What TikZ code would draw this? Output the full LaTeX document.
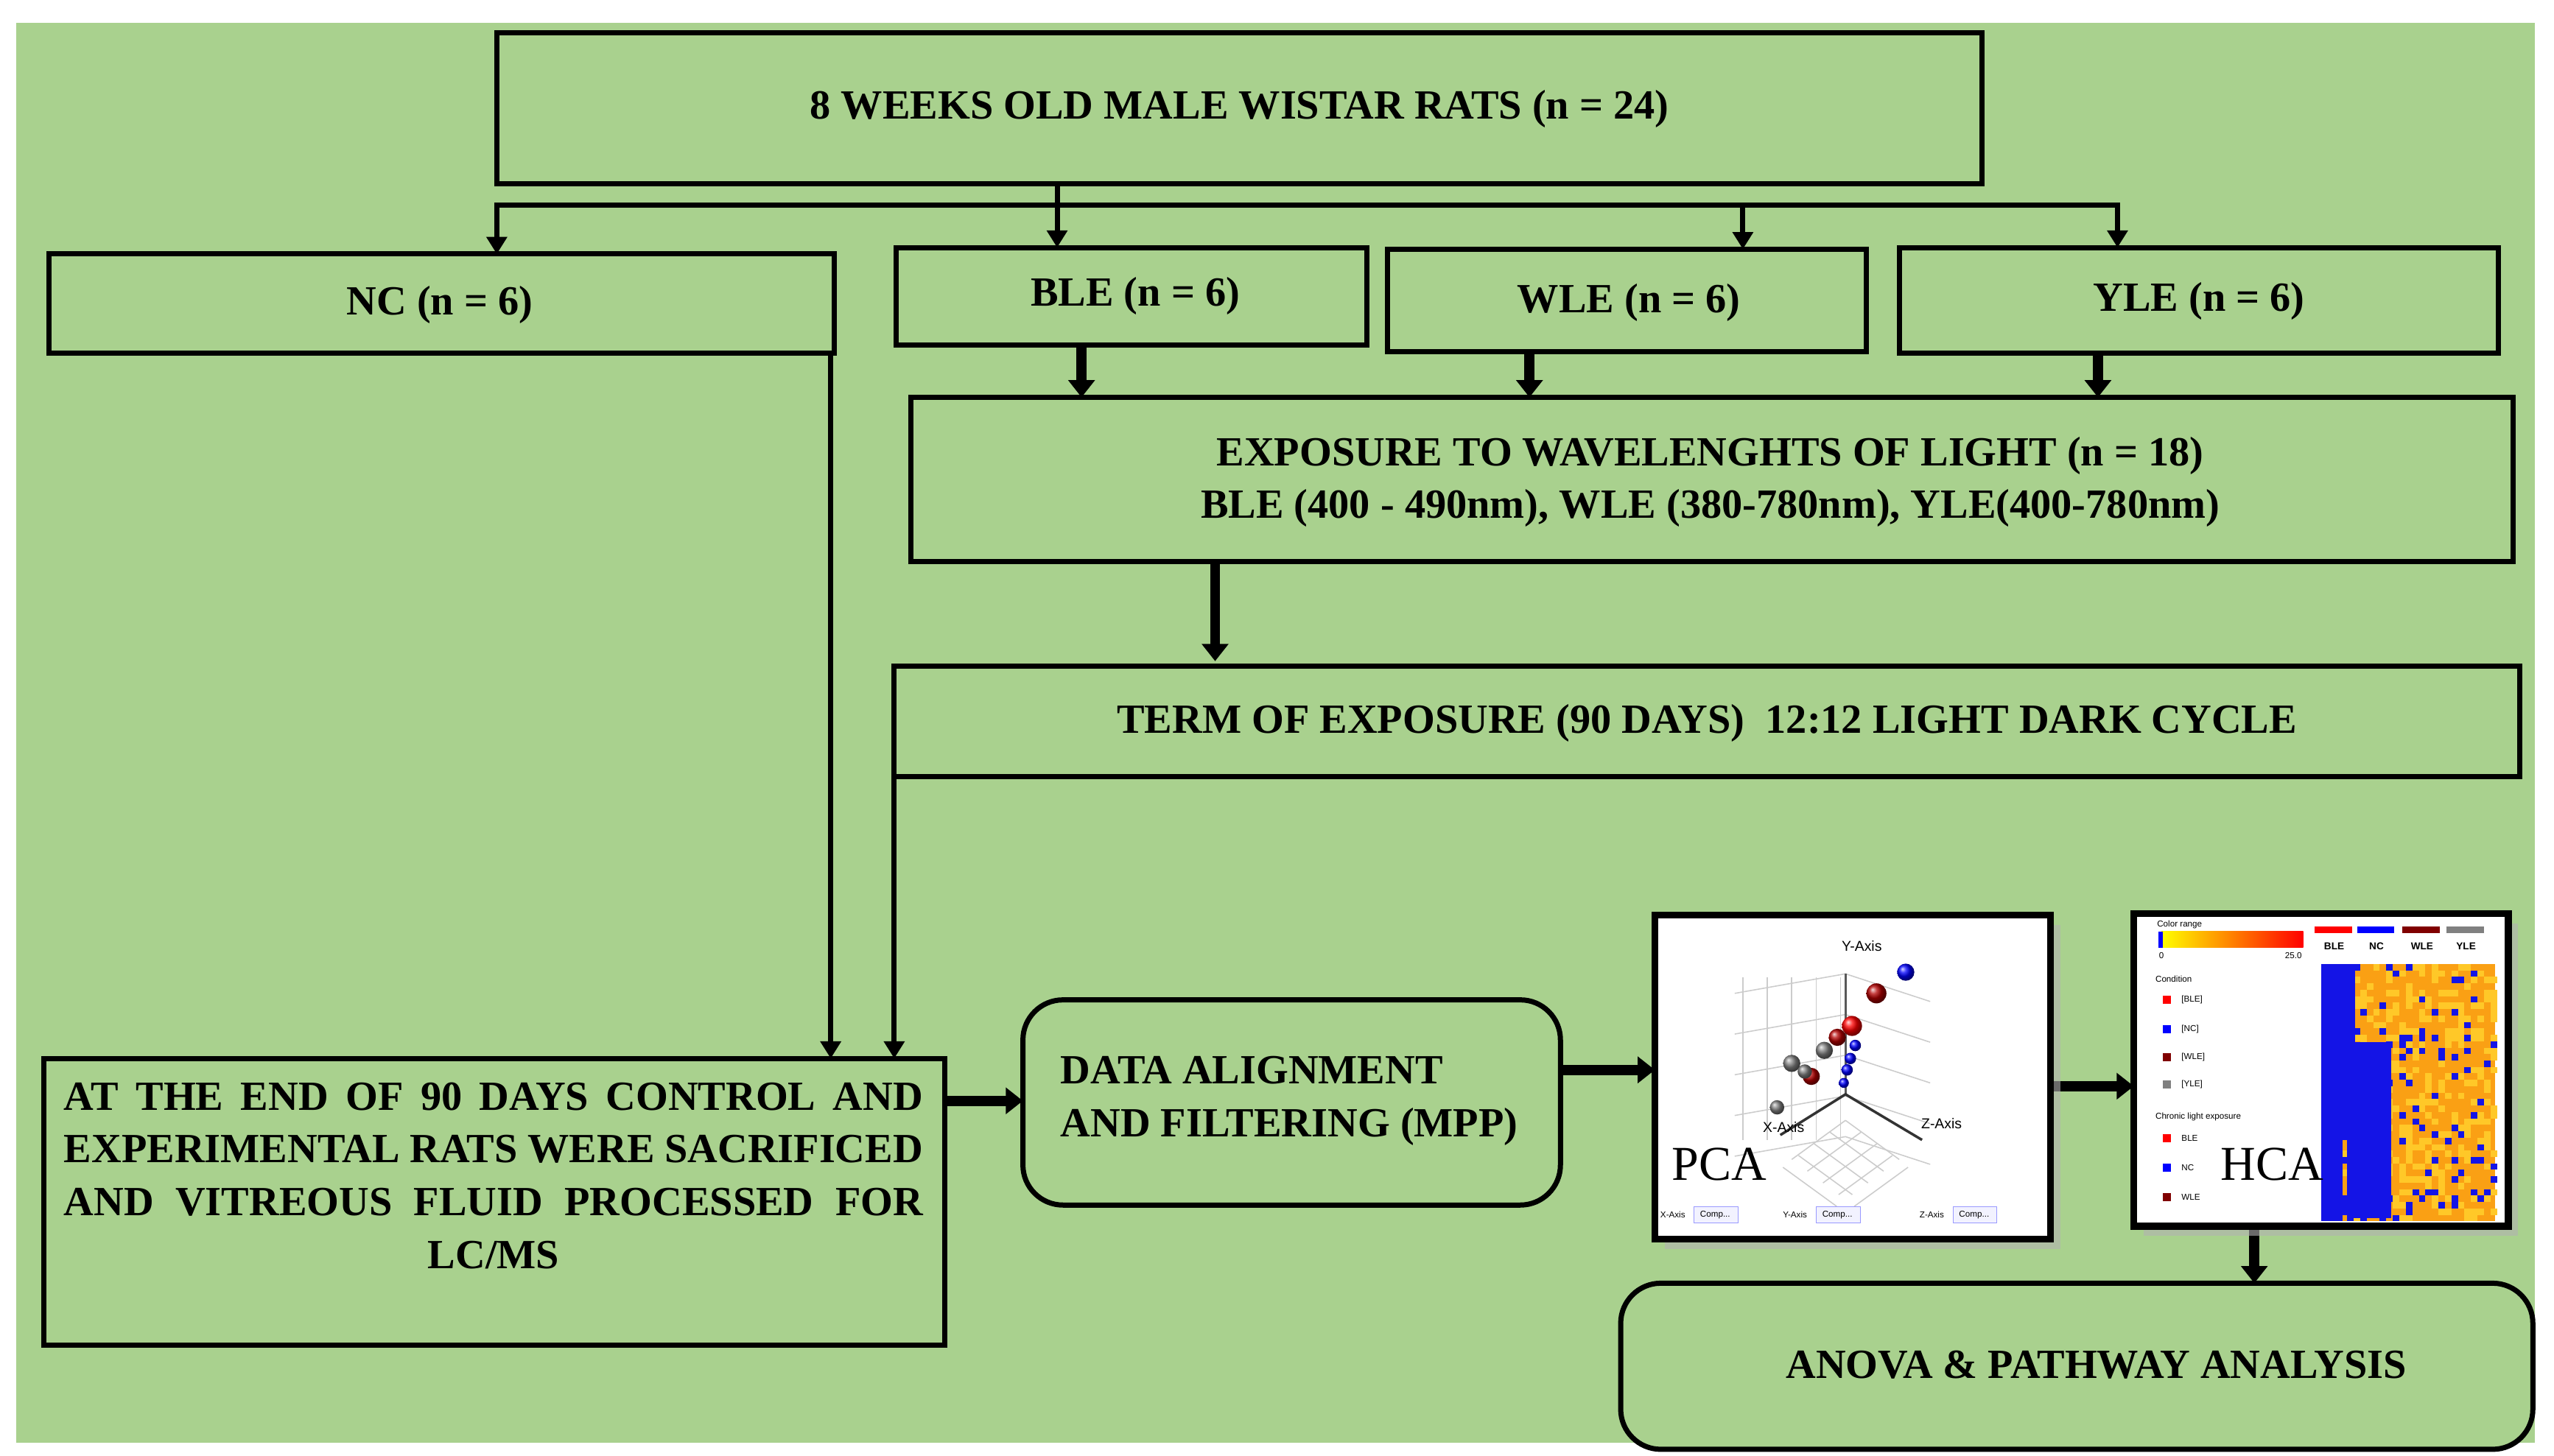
\documentclass[tikz,border=0pt]{standalone}
\usepackage{fontspec}
\setmainfont{Liberation Serif}
\newfontfamily\smallsans{Liberation Sans}
\usetikzlibrary{arrows.meta,shadows}
\definecolor{bg}{RGB}{169,209,142}
\definecolor{heatO}{RGB}{250,160,20}
\definecolor{heatY}{RGB}{255,200,40}
\definecolor{heatB}{RGB}{20,20,230}
\begin{document}
\begin{tikzpicture}[x=0.02cm,y=-0.02cm,
  box/.style={draw=black,line width=1.8pt,fill=bg},
  rbox/.style={draw=black,line width=1.8pt,fill=bg,rounded corners=14pt},
  txt/.style={font=\bfseries\fontsize{14.5}{18.5}\selectfont,align=center},
  arr/.style={line width=1.8pt,-{Triangle[length=6pt,width=7pt]}},
  tarr/.style={line width=3.5pt,-{Triangle[length=6pt,width=9pt]}},
  big/.style={font=\fontsize{17}{18}\selectfont,inner sep=0pt,anchor=west},
  lbl/.style={font=\smallsans\fontsize{3}{3.5}\selectfont,inner sep=0pt}]
\useasboundingbox (0,0) rectangle (1568,894);
\fill[white] (0,0) rectangle (1568,894);
\fill[bg] (10,14) rectangle (1556,886);

% boxes
\draw[box] (305,20) rectangle (1217,113);
\node[txt] (top) at (761,67) {8 WEEKS OLD MALE WISTAR RATS (n = 24)};
\coordinate (topb) at (649,113);
\draw[box] (30,156) rectangle (512,217);
\node[txt] (nc) at (270,187) {NC (n = 6)};
\draw[box] (550,152) rectangle (839,212);
\node[txt] (ble) at (697,182) {BLE (n = 6)};
\draw[box] (852,153) rectangle (1146,216);
\node[txt] (wle) at (1000,186) {WLE (n = 6)};
\draw[box] (1166,152) rectangle (1534,217);
\node[txt] (yle) at (1350,185) {YLE (n = 6)};
\draw[box] (559,244) rectangle (1543,345);
\node[txt] (exp) at (1050,296) {EXPOSURE TO WAVELENGHTS OF LIGHT (n = 18)\\BLE (400 - 490nm), WLE (380-780nm), YLE(400-780nm)};
\draw[box] (549,409) rectangle (1547,477);
\node[txt] (term) at (1048,444) {TERM OF EXPOSURE (90 DAYS)\ \ 12:12 LIGHT DARK CYCLE};
\draw[box] (27,650) rectangle (580,826);
\node[txt,align=center] (end) at (303,722) {\makebox[10.55cm][s]{AT THE END OF 90 DAYS CONTROL AND}\\\makebox[10.55cm][s]{EXPERIMENTAL RATS WERE SACRIFICED}\\\makebox[10.55cm][s]{AND VITREOUS FLUID PROCESSED FOR}\\LC/MS};
\draw[rbox] (628,614) rectangle (958,740);
\node[txt,align=left,anchor=west] (data) at (645,676) {DATA ALIGNMENT\\AND FILTERING (MPP)};
\draw[rbox] (995,788) rectangle (1555,890);
\node[txt] (anova) at (1287,838) {ANOVA \& PATHWAY ANALYSIS};

% connectors
\draw[line width=1.8pt] (topb) -- (649,126);
\draw[line width=1.8pt] (305,126) -- (1300,126);
\draw[arr] (305,124.5) -- (305,156);
\draw[arr] (649,126) -- (649,152);
\draw[arr] (1070,124.5) -- (1070,153);
\draw[arr] (1300,124.5) -- (1300,152);
\draw[tarr] (664,212) -- (664,244);
\draw[tarr] (939,216) -- (939,244);
\draw[tarr] (1288,217) -- (1288,244);
\draw[tarr] (746,345) -- (746,406);
\draw[arr] (510,217) -- (510,650);
\draw[arr] (549,477) -- (549,650);
\draw[tarr] (580,676) -- (628,676);
\draw[tarr] (958,657) -- (1016,657);
\draw[tarr] (1259,667) -- (1310,667);
\draw[tarr] (1384,753) -- (1384,788);

% PCA image
\fill[gray!60,opacity=0.6] (1022,568) rectangle (1265,767);
\draw[line width=2.4pt,fill=white] (1016,562) rectangle (1259,761);
\begin{scope}[gray!40,line width=0.4pt]
  \foreach \y in {0,25,50,75,100} {
    \draw (1065,610+\y) -- (1133,598+\y) -- (1185,615+\y);
  }
  \foreach \x in {0,15,30,45,60} \draw (1070+\x,600) -- (1070+\x,700);
  \foreach \i in {0,12,24,36,48} {
    \draw (1100+\i*0.8,712+\i*0.6) -- (1133+\i*0.8,688+\i*0.6);
    \draw (1133-\i*0.8,688+\i*0.6) -- (1166-\i*0.8,712+\i*0.6);
  }
\end{scope}
\draw[gray!70!black,line width=0.7pt] (1133,598) -- (1133,672);
\draw[black!80,line width=0.9pt] (1093,697) -- (1133,672) -- (1180,700);
\node[lbl,font=\smallsans\fontsize{5}{5}\selectfont] (yax) at (1143,581) {Y-Axis};
\node[lbl,font=\smallsans\fontsize{5}{5}\selectfont] (xax) at (1095,692) {X-Axis};
\node[lbl,font=\smallsans\fontsize{5}{5}\selectfont] (zax) at (1192,690) {Z-Axis};
\foreach \x/\y/\c/\s in {1170/597/blue/6pt,1152/610/red!70!black/7pt,1137/630/red/7pt,1128/637/red!70!black/6pt,1120/645/gray/6pt,1112/661/red!70!black/6pt,1100/653/gray/6pt,1108/658/gray/5pt,1091/680/gray/5pt,1139/642/blue/4pt,1136/650/blue/4pt,1134/657/blue/4pt,1132/665/blue/3.5pt}
  \shade[ball color=\c] (\x,\y) circle (\s/2);
\node[big] (pca) at (1026,715) {PCA};
\foreach \x/\t in {1027/X-Axis,1102/Y-Axis,1186/Z-Axis} {
  \node[lbl] at (\x,746) {\t};
  \draw[blue!40,fill=blue!5,line width=0.3pt] (\x+13,741) rectangle (\x+40,751);
  \node[lbl] at (\x+26,746) {Comp...};
}

% HCA image
\fill[gray!60,opacity=0.6] (1316,567) rectangle (1546,759);
\draw[line width=2.4pt,fill=white] (1310,561) rectangle (1540,753);
\shade[left color=yellow,right color=red] (1327,572) rectangle (1414,582);
\fill[blue] (1325,572) rectangle (1328,582);
\node[lbl,anchor=west] at (1324,568) {Color range};
\node[lbl] at (1327,587) {0};
\node[lbl] at (1408,587) {25.0};
\foreach \x/\c/\t in {1421/red/BLE,1447/blue/NC,1475/red!50!black/WLE,1502/gray/YLE} {
  \fill[\c] (\x,569) rectangle (\x+23,573);
  \node[lbl,font=\smallsans\bfseries\fontsize{3.5}{4}\selectfont] at (\x+12,581) {\t};
}
\node[lbl,anchor=west] at (1323,601) {Condition};
\foreach \y/\c/\t in {614/red/[BLE],632/blue/[NC],649/red!50!black/[WLE],666/gray/[YLE]} {
  \fill[\c] (1328,\y-2.5) rectangle (1333,\y+2.5);
  \node[lbl,anchor=west] at (1339,\y) {\t};
}
\node[lbl,anchor=west] at (1323,686) {Chronic light exposure};
\foreach \y/\c/\t in {699/red/BLE,717/blue/NC,735/red!50!black/WLE} {
  \fill[\c] (1328,\y-2.5) rectangle (1333,\y+2.5);
  \node[lbl,anchor=west] at (1339,\y) {\t};
}
\fill[heatO] (1425,592) rectangle (1532,750);
\pgfmathsetseed{7}
\foreach \i in {0,...,26} {
  \foreach \j in {0,...,39} {
    \pgfmathsetmacro{\r}{rnd}
    \pgfmathsetmacro{\xx}{1425+\i*4}
    \pgfmathsetmacro{\yy}{592+\j*3.95}
    \ifdim\r pt<0.12pt
      \fill[heatB] (\xx,\yy) rectangle ++(4,3.95);
    \else\ifdim\r pt<0.40pt
      \fill[heatY] (\xx,\yy) rectangle ++(4,3.95);
    \fi\fi
  }
}
\fill[heatB] (1425,592) rectangle (1438,750);
\fill[heatB] (1441,640) rectangle (1468,748);
\fill[heatB] (1438,592) rectangle (1446,700);
\node[big] (hca) at (1363,715) {HCA};
\end{tikzpicture}
\end{document}
